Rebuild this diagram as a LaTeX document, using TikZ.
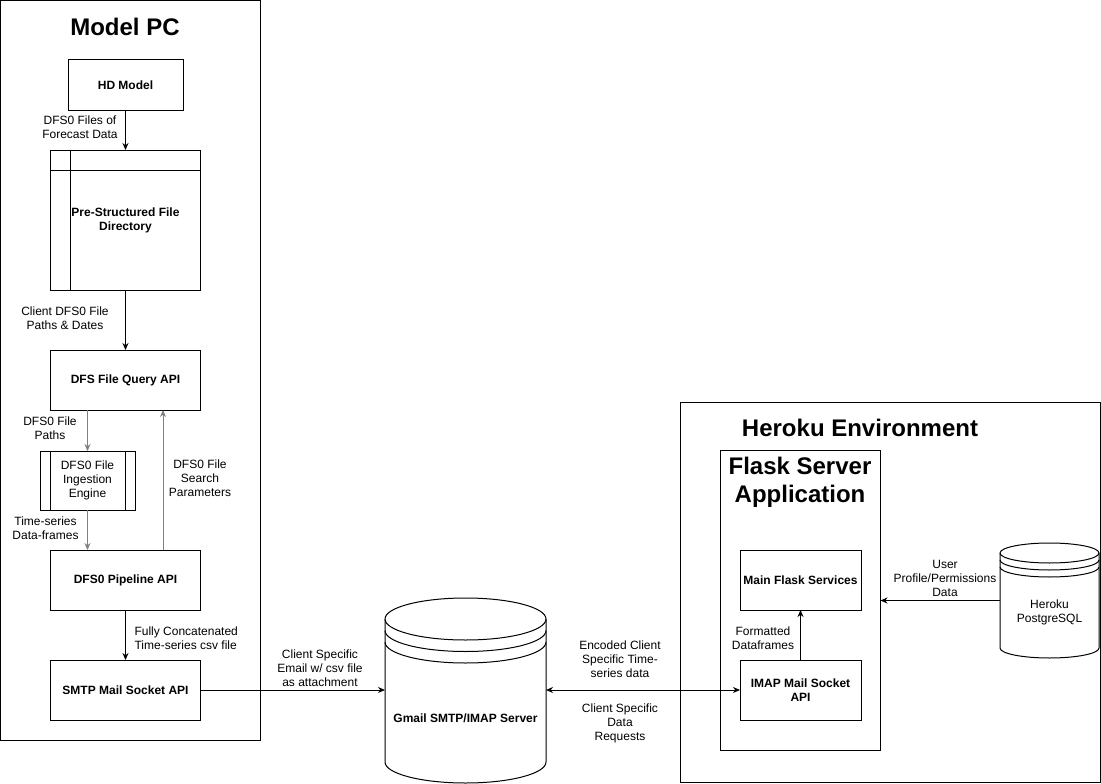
\documentclass[tikz,border=0pt]{standalone}
\usepackage{fontspec}
\setmainfont{Liberation Sans}
\usetikzlibrary{arrows.meta}

\definecolor{linkgray}{RGB}{128,128,128}
\tikzset{
  block/.style={draw, line width=1pt, minimum width=150pt, minimum height=60pt,
    align=center, inner sep=2pt, outer sep=0pt, font=\bfseries\fontsize{12}{14}\selectfont},
  frame/.style={draw, line width=1pt, outer sep=0pt},
  title/.style={font=\bfseries\fontsize{24}{28}\selectfont, align=center},
  lbl/.style={font=\fontsize{12}{14}\selectfont, align=center},
  flow/.style={line width=1pt, -{Stealth[length=7pt,width=6pt]}},
  grayflow/.style={flow, draw=linkgray},
}
% datastore outline: node, x radius, y radius, gap of the rims
\newcommand{\drawstore}[4]{%
  \draw[line width=1pt] ([yshift=-#3]#1.north west) -- ([yshift=#3]#1.south west)
    arc[start angle=180, end angle=360, x radius=#2, y radius=#3]
    -- ([yshift=-#3]#1.north east)
    arc[start angle=0, end angle=180, x radius=#2, y radius=#3];
  \foreach \k in {0,1,2} {
    \draw[line width=1pt] ([yshift=-#3-\k*#4]#1.north west)
      arc[start angle=180, end angle=360, x radius=#2, y radius=#3];
  }
}

\begin{document}
\begin{tikzpicture}[x=1pt, y=-1pt]
  \useasboundingbox (0,0) rectangle (1101,784);

  % containers
  \node[frame, minimum width=259.5pt, minimum height=739.5pt] (modelpc) at (130.25,370.25) {};
  \node[title] (tmodel) at (125,27) {Model PC};
  \node[frame, minimum width=420pt, minimum height=380.5pt] (heroku) at (890,592.25) {};
  \node[title] (theroku) at (860,428) {Heroku Environment};
  \node[frame, minimum width=160.5pt, minimum height=299.5pt] (flask) at (800.25,600.25) {};
  \node[title] (tflask) at (800,482) {Flask Server\\Application};

  % model pc blocks
  \node[block, minimum width=115pt, minimum height=50pt] (hd) at (125.5,85) {HD Model};
  \node[block, minimum height=140pt] (psfd) at (125.5,220) {Pre-Structured File\\Directory};
  \draw[line width=1pt] ([xshift=20pt]psfd.north west) -- ([xshift=20pt]psfd.south west);
  \draw[line width=1pt] ([yshift=-20pt]psfd.north west) -- ([yshift=-20pt]psfd.north east);
  \node[block] (query) at (125.5,380) {DFS File Query API};
  \node[block, minimum width=95pt, minimum height=59pt, font=\fontsize{12}{14}\selectfont] (ingest) at (87.5,480.5) {DFS0 File\\Ingestion\\Engine};
  \draw[line width=1pt] ([xshift=10pt]ingest.north west) -- ([xshift=10pt]ingest.south west);
  \draw[line width=1pt] ([xshift=-10pt]ingest.north east) -- ([xshift=-10pt]ingest.south east);
  \node[block] (pipe) at (125.5,580) {DFS0 Pipeline API};
  \node[block] (smtp) at (125.5,690) {SMTP Mail Socket API};

  % mail server
  \node[minimum width=161pt, minimum height=185pt, inner sep=0pt, outer sep=0pt] (gmail) at (465.5,690.5) {};
  \drawstore{gmail}{80.5pt}{21pt}{11.5pt}
  \node[font=\bfseries\fontsize{12}{14}\selectfont] (tgmail) at ([yshift=-27.5pt]gmail.center) {Gmail SMTP/IMAP Server};

  % heroku blocks
  \node[block, minimum width=121pt] (main) at (800.5,580) {Main Flask Services};
  \node[block, minimum width=121pt] (imap) at (800.5,690) {IMAP Mail Socket\\API};
  \node[minimum width=99pt, minimum height=115pt, inner sep=0pt, outer sep=0pt] (pg) at (1049.5,600.5) {};
  \drawstore{pg}{49.5pt}{10pt}{7pt}
  \node[lbl] (tpg) at ([yshift=-11.5pt]pg.center) {Heroku\\PostgreSQL};

  % connectors
  \draw[flow] (hd) -- (psfd);
  \draw[flow] (psfd) -- (query);
  \draw[grayflow] (query.south -| ingest.north) -- (ingest.north);
  \draw[grayflow] (ingest.south) -- (ingest.south |- pipe.north);
  \draw[grayflow] ([xshift=37.5pt]pipe.north) -- ([xshift=37.5pt]query.south);
  \draw[flow] (pipe) -- (smtp);
  \draw[flow] (smtp.east) -- (smtp.east -| gmail.west);
  \draw[flow, {Stealth[length=7pt,width=6pt]}-{Stealth[length=7pt,width=6pt]}] (imap.west -| gmail.east) -- (imap.west);
  \draw[flow] (imap) -- (main);
  \draw[flow] (pg.west) -- (pg.west -| flask.east);

  % connector labels
  \node[lbl] (lhd) at (80,127.5) {DFS0 Files of\\Forecast Data};
  \node[lbl] (lpsfd) at (65,318.5) {Client DFS0 File\\Paths \& Dates};
  \node[lbl] (lpaths) at (50,428.5) {DFS0 File\\Paths};
  \node[lbl] (lframes) at (45.5,528) {Time-series\\Data-frames};
  \node[lbl] (lsearch) at (200,478) {DFS0 File\\Search\\Parameters};
  \node[lbl, align=left, anchor=west] (lcsv) at (131,638.5) {Fully Concatenated\\Time-series csv file};
  \node[lbl] (lmail) at (320,668) {Client Specific\\Email w/ csv file\\as attachment};
  \node[lbl] (lenc) at (620,659) {Encoded Client\\Specific Time-\\series data};
  \node[lbl] (lreq) at (620,723) {Client Specific\\Data\\Requests};
  \node[lbl] (lfmt) at (763,638) {Formatted\\Dataframes};
  \node[lbl] (luser) at (945,578) {User\\Profile/Permissions\\Data};
\end{tikzpicture}
\end{document}
